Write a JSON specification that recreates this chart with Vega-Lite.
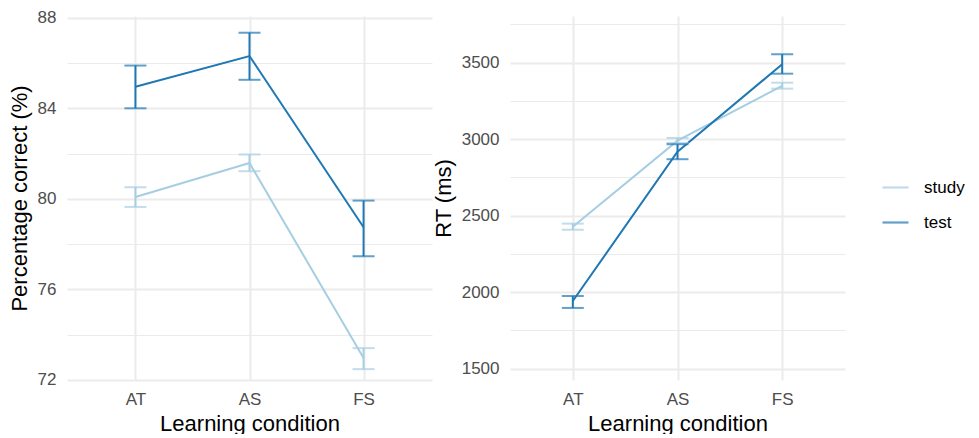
{
  "$schema": "https://vega.github.io/schema/vega-lite/v6.json",
  "background": "white",
  "padding": {"left": 8, "top": 8, "right": 0, "bottom": 0},
  "config": {
    "view": {"stroke": null},
    "font": "Liberation Sans",
    "axis": {
      "labelFont": "Liberation Sans",
      "labelFontSize": 17,
      "labelColor": "#4d4d4d",
      "titleFont": "Liberation Sans",
      "titleFontSize": 22,
      "titleFontWeight": "normal",
      "titleColor": "#000000",
      "ticks": false,
      "domain": false,
      "gridColor": "#ebebeb"
    },
    "legend": {
      "labelFont": "Liberation Sans",
      "labelFontSize": 17,
      "labelColor": "#000000",
      "symbolType": "stroke",
      "symbolStrokeWidth": 2.2,
      "symbolSize": 676,
      "labelOffset": 14,
      "rowPadding": 12
    }
  },
  "datasets": {
    "d": [
      {"measure": "acc", "cond": "AT", "phase": "study", "mean": 80.08, "lo": 79.64, "hi": 80.51},
      {"measure": "acc", "cond": "AS", "phase": "study", "mean": 81.58, "lo": 81.22, "hi": 81.96},
      {"measure": "acc", "cond": "FS", "phase": "study", "mean": 72.96, "lo": 72.47, "hi": 73.40},
      {"measure": "acc", "cond": "AT", "phase": "test", "mean": 84.95, "lo": 84.00, "hi": 85.89},
      {"measure": "acc", "cond": "AS", "phase": "test", "mean": 86.31, "lo": 85.26, "hi": 87.34},
      {"measure": "acc", "cond": "FS", "phase": "test", "mean": 78.74, "lo": 77.46, "hi": 79.92},
      {"measure": "rt", "cond": "AT", "phase": "study", "mean": 2428, "lo": 2408, "hi": 2448},
      {"measure": "rt", "cond": "AS", "phase": "study", "mean": 2990, "lo": 2975, "hi": 3008},
      {"measure": "rt", "cond": "FS", "phase": "study", "mean": 3348, "lo": 3330, "hi": 3369},
      {"measure": "rt", "cond": "AT", "phase": "test", "mean": 1942, "lo": 1897, "hi": 1975},
      {"measure": "rt", "cond": "AS", "phase": "test", "mean": 2918, "lo": 2869, "hi": 2967},
      {"measure": "rt", "cond": "FS", "phase": "test", "mean": 3490, "lo": 3428, "hi": 3555}
    ]
  },
  "spacing": 0,
  "resolve": {"scale": {"color": "shared"}},
  "hconcat": [
    {
      "width": 365,
      "height": 364,
      "data": {"name": "d"},
      "transform": [{"filter": "datum.measure === 'acc'"}],
      "encoding": {
        "x": {
          "field": "cond", "type": "nominal", "sort": ["AT", "AS", "FS"],
          "scale": {"type": "point", "padding": 0.6},
          "axis": {"title": "Learning condition", "labelAngle": 0, "grid": true, "gridWidth": 2, "labelPadding": 11, "titlePadding": 6}
        },
        "color": {
          "field": "phase", "type": "nominal",
          "scale": {"domain": ["study", "test"], "range": ["#a6cee3", "#1f78b4"]},
          "legend": {"title": null, "orient": "none", "legendX": 814, "legendY": 157}
        }
      },
      "layer": [
        {
          "mark": {"type": "line", "strokeWidth": 2},
          "encoding": {
            "y": {
              "field": "mean", "type": "quantitative", "title": "Percentage correct (%)",
              "scale": {"domain": [71.99, 88.08], "nice": false, "zero": false},
              "axis": {
                "values": [72, 74, 76, 78, 80, 82, 84, 86, 88],
                "labelExpr": "datum.value % 4 === 0 ? datum.label : ''",
                "gridWidth": {"condition": {"test": "datum.value % 4 === 0", "value": 2}, "value": 1.1},
                "labelPadding": 11,
                "titlePadding": 6
              }
            }
          }
        },
        {
          "mark": {"type": "rule", "strokeWidth": 2},
          "encoding": {
            "y": {"field": "lo", "type": "quantitative", "title": "Percentage correct (%)"},
            "y2": {"field": "hi"}
          }
        },
        {
          "mark": {"type": "tick", "thickness": 2, "size": 22},
          "encoding": {"y": {"field": "lo", "type": "quantitative", "title": "Percentage correct (%)"}}
        },
        {
          "mark": {"type": "tick", "thickness": 2, "size": 22},
          "encoding": {"y": {"field": "hi", "type": "quantitative", "title": "Percentage correct (%)"}}
        }
      ]
    },
    {
      "width": 335,
      "height": 364,
      "data": {"name": "d"},
      "transform": [{"filter": "datum.measure === 'rt'"}],
      "encoding": {
        "x": {
          "field": "cond", "type": "nominal", "sort": ["AT", "AS", "FS"],
          "scale": {"type": "point", "padding": 0.6},
          "axis": {"title": "Learning condition", "labelAngle": 0, "grid": true, "gridWidth": 2, "labelPadding": 11, "titlePadding": 6}
        },
        "color": {
          "field": "phase", "type": "nominal",
          "scale": {"domain": ["study", "test"], "range": ["#a6cee3", "#1f78b4"]},
          "legend": {"title": null, "orient": "none", "legendX": 814, "legendY": 157}
        }
      },
      "layer": [
        {
          "mark": {"type": "line", "strokeWidth": 2},
          "encoding": {
            "y": {
              "field": "mean", "type": "quantitative", "title": "RT (ms)",
              "scale": {"domain": [1426, 3805], "nice": false, "zero": false},
              "axis": {
                "values": [1500, 1750, 2000, 2250, 2500, 2750, 3000, 3250, 3500, 3750],
                "labelExpr": "datum.value % 500 === 0 ? datum.label : ''",
                "format": "d",
                "gridWidth": {"condition": {"test": "datum.value % 500 === 0", "value": 2}, "value": 1.1},
                "labelPadding": 11,
                "titlePadding": 6
              }
            }
          }
        },
        {
          "mark": {"type": "rule", "strokeWidth": 2},
          "encoding": {
            "y": {"field": "lo", "type": "quantitative", "title": "RT (ms)"},
            "y2": {"field": "hi"}
          }
        },
        {
          "mark": {"type": "tick", "thickness": 2, "size": 22},
          "encoding": {"y": {"field": "lo", "type": "quantitative", "title": "RT (ms)"}}
        },
        {
          "mark": {"type": "tick", "thickness": 2, "size": 22},
          "encoding": {"y": {"field": "hi", "type": "quantitative", "title": "RT (ms)"}}
        }
      ]
    }
  ]
}
